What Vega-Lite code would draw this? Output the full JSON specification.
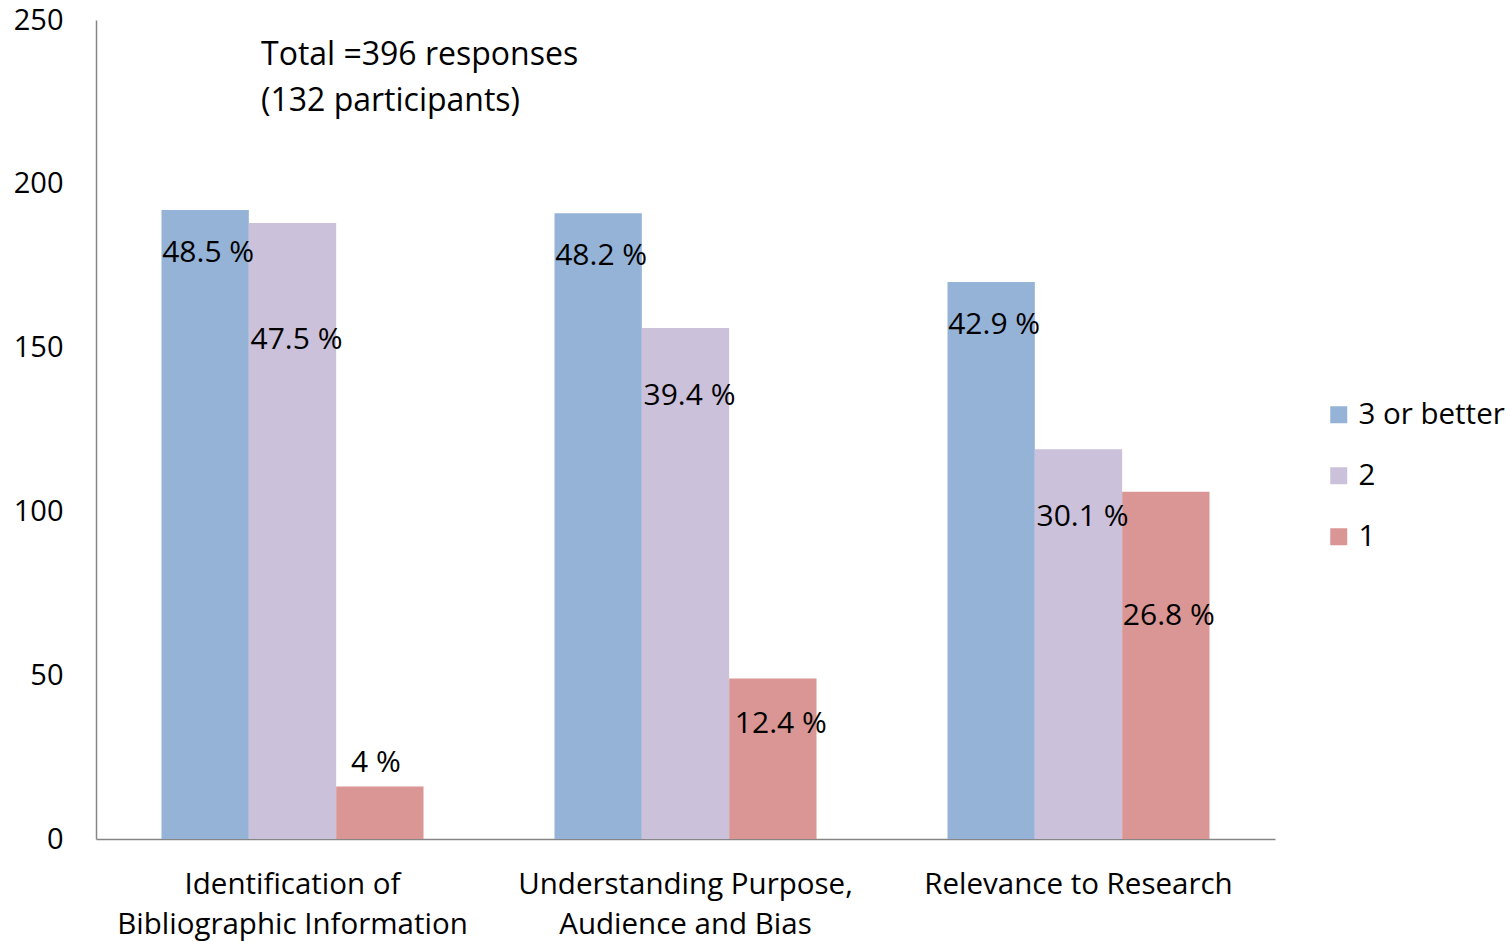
{
  "$schema": "https://vega.github.io/schema/vega-lite/v6.json",
  "width": 1179,
  "height": 819,
  "autosize": {"type": "none"},
  "padding": {"left": 96, "top": 20, "right": 235, "bottom": 102},
  "background": "white",
  "config": {"font": "Open Sans", "view": {"stroke": null}},
  "title": {
    "text": ["Total =396 responses", "(132 participants)"],
    "anchor": "start",
    "frame": "group",
    "orient": "top",
    "dx": 165,
    "offset": -112,
    "baseline": "top",
    "fontSize": 32,
    "fontWeight": "normal",
    "color": "#000000",
    "lineHeight": 46
  },
  "data": {
    "values": [
      {"category": "Identification of Bibliographic Information", "rating": "3 or better", "count": 192, "label": "48.5 %"},
      {"category": "Identification of Bibliographic Information", "rating": "2", "count": 188, "label": "47.5 %"},
      {"category": "Identification of Bibliographic Information", "rating": "1", "count": 16, "label": "4 %"},
      {"category": "Understanding Purpose, Audience and Bias", "rating": "3 or better", "count": 191, "label": "48.2 %"},
      {"category": "Understanding Purpose, Audience and Bias", "rating": "2", "count": 156, "label": "39.4 %"},
      {"category": "Understanding Purpose, Audience and Bias", "rating": "1", "count": 49, "label": "12.4 %"},
      {"category": "Relevance to Research", "rating": "3 or better", "count": 170, "label": "42.9 %"},
      {"category": "Relevance to Research", "rating": "2", "count": 119, "label": "30.1 %"},
      {"category": "Relevance to Research", "rating": "1", "count": 106, "label": "26.8 %"}
    ]
  },
  "encoding": {
    "x": {
      "field": "category",
      "type": "nominal",
      "sort": null,
      "scale": {"paddingInner": 0, "paddingOuter": 0},
      "axis": {
        "title": null,
        "labelAngle": 0,
        "ticks": false,
        "domainColor": "#868686",
        "domainWidth": 1.5,
        "labelFontSize": 29.5,
        "labelColor": "#000000",
        "labelPadding": 31,
        "labelLineHeight": 40,
        "labelLimit": 0,
        "labelExpr": "datum.value == 'Identification of Bibliographic Information' ? ['Identification of', 'Bibliographic Information'] : datum.value == 'Understanding Purpose, Audience and Bias' ? ['Understanding Purpose,', 'Audience and Bias'] : datum.value"
      }
    },
    "xOffset": {
      "field": "rating",
      "type": "nominal",
      "sort": ["3 or better", "2", "1"],
      "scale": {"paddingInner": 0, "paddingOuter": 0.75}
    },
    "y": {
      "field": "count",
      "type": "quantitative",
      "scale": {"domain": [0, 250]},
      "axis": {
        "title": null,
        "values": [0, 50, 100, 150, 200, 250],
        "grid": false,
        "ticks": false,
        "domainColor": "#868686",
        "domainWidth": 1.5,
        "labelFontSize": 29,
        "labelColor": "#000000",
        "labelPadding": 33
      }
    }
  },
  "layer": [
    {
      "mark": {"type": "bar"},
      "encoding": {
        "color": {
          "field": "rating",
          "type": "nominal",
          "sort": ["3 or better", "2", "1"],
          "scale": {"domain": ["3 or better", "2", "1"], "range": ["#95B3D7", "#CCC1DA", "#D99694"]},
          "legend": {
            "title": null,
            "orient": "none",
            "legendX": 1228,
            "legendY": 380,
            "symbolType": "square",
            "symbolSize": 289,
            "symbolStrokeWidth": 0,
            "symbolOpacity": 1,
            "labelFontSize": 29.5,
            "labelColor": "#000000",
            "labelOffset": 5,
            "rowPadding": 30,
            "labelLimit": 300
          }
        }
      }
    },
    {
      "transform": [{"filter": "datum.rating == '3 or better'"}],
      "mark": {"type": "text", "baseline": "middle", "dy": 43, "dx": 3, "fontSize": 30, "color": "#000000"},
      "encoding": {"text": {"field": "label"}}
    },
    {
      "transform": [{"filter": "datum.rating == '2' && datum.count > 180"}],
      "mark": {"type": "text", "baseline": "middle", "dy": 117, "dx": 4, "fontSize": 30, "color": "#000000"},
      "encoding": {"text": {"field": "label"}}
    },
    {
      "transform": [{"filter": "datum.rating == '2' && datum.count <= 180"}],
      "mark": {"type": "text", "baseline": "middle", "dy": 68, "dx": 4, "fontSize": 30, "color": "#000000"},
      "encoding": {"text": {"field": "label"}}
    },
    {
      "transform": [{"filter": "datum.rating == '1' && datum.count >= 100"}],
      "mark": {"type": "text", "baseline": "middle", "dy": 124, "dx": 3, "fontSize": 30, "color": "#000000"},
      "encoding": {"text": {"field": "label"}}
    },
    {
      "transform": [{"filter": "datum.rating == '1' && datum.count >= 30 && datum.count < 100"}],
      "mark": {"type": "text", "baseline": "middle", "dy": 46, "dx": 8, "fontSize": 30, "color": "#000000"},
      "encoding": {"text": {"field": "label"}}
    },
    {
      "transform": [{"filter": "datum.rating == '1' && datum.count < 30"}],
      "mark": {"type": "text", "baseline": "middle", "dy": -24, "dx": -4, "fontSize": 30, "color": "#000000"},
      "encoding": {"text": {"field": "label"}}
    }
  ]
}
